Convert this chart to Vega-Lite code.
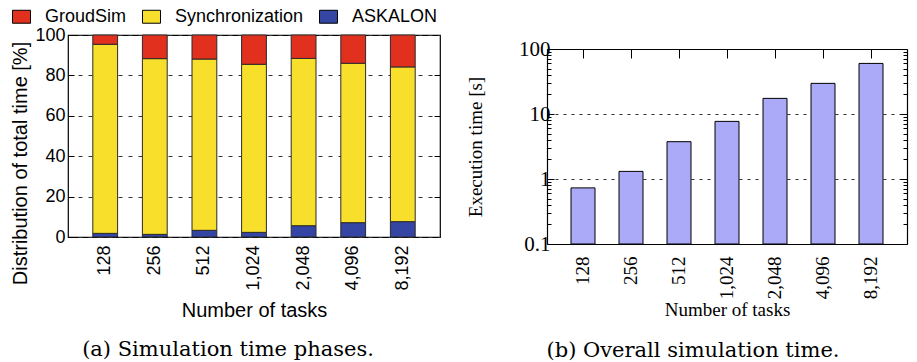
{
  "$schema": "https://vega.github.io/schema/vega-lite/v6.json",
  "background": "white",
  "padding": {"left": 10, "top": 7, "right": 5, "bottom": 5},
  "spacing": 24,
  "config": {
    "view": {"stroke": "black", "strokeWidth": 1.2},
    "axis": {"domain": false, "labelColor": "black", "titleColor": "black", "tickColor": "black", "titleFontWeight": "normal"},
    "title": {"color": "black", "fontWeight": "normal"}
  },
  "hconcat": [
    {
      "width": 372,
      "height": 202,
      "title": {"text": "(a) Simulation time phases.", "orient": "bottom", "font": "DejaVu Serif", "fontSize": 21, "fontWeight": "normal", "offset": 19, "dx": -26},
      "data": {"values": [
        {"tasks": "128", "phase": "ASKALON", "rank": 1, "pct": 1.8},
        {"tasks": "128", "phase": "Synchronization", "rank": 2, "pct": 93.6},
        {"tasks": "128", "phase": "GroudSim", "rank": 3, "pct": 4.6},
        {"tasks": "256", "phase": "ASKALON", "rank": 1, "pct": 1.3},
        {"tasks": "256", "phase": "Synchronization", "rank": 2, "pct": 87.0},
        {"tasks": "256", "phase": "GroudSim", "rank": 3, "pct": 11.7},
        {"tasks": "512", "phase": "ASKALON", "rank": 1, "pct": 3.3},
        {"tasks": "512", "phase": "Synchronization", "rank": 2, "pct": 84.8},
        {"tasks": "512", "phase": "GroudSim", "rank": 3, "pct": 11.9},
        {"tasks": "1,024", "phase": "ASKALON", "rank": 1, "pct": 2.3},
        {"tasks": "1,024", "phase": "Synchronization", "rank": 2, "pct": 83.2},
        {"tasks": "1,024", "phase": "GroudSim", "rank": 3, "pct": 14.5},
        {"tasks": "2,048", "phase": "ASKALON", "rank": 1, "pct": 5.6},
        {"tasks": "2,048", "phase": "Synchronization", "rank": 2, "pct": 82.8},
        {"tasks": "2,048", "phase": "GroudSim", "rank": 3, "pct": 11.6},
        {"tasks": "4,096", "phase": "ASKALON", "rank": 1, "pct": 7.1},
        {"tasks": "4,096", "phase": "Synchronization", "rank": 2, "pct": 78.9},
        {"tasks": "4,096", "phase": "GroudSim", "rank": 3, "pct": 14.0},
        {"tasks": "8,192", "phase": "ASKALON", "rank": 1, "pct": 7.6},
        {"tasks": "8,192", "phase": "Synchronization", "rank": 2, "pct": 76.6},
        {"tasks": "8,192", "phase": "GroudSim", "rank": 3, "pct": 15.8}
      ]},
      "layer": [
        {
          "mark": {"type": "bar", "stroke": "#2b2b2b", "strokeWidth": 1},
          "encoding": {
            "x": {"field": "tasks", "type": "ordinal", "sort": null,
              "scale": {"paddingInner": 0.5, "paddingOuter": 0.5},
              "axis": {"title": "Number of tasks", "labelAngle": -90, "labelAlign": "right", "labelBaseline": "middle", "ticks": false, "labelPadding": 8,
                "labelFont": "Liberation Sans", "labelFontSize": 18, "titleFont": "Liberation Sans", "titleFontSize": 20, "titlePadding": 10}},
            "y": {"field": "pct", "type": "quantitative", "stack": "zero",
              "scale": {"domain": [0, 100], "nice": false},
              "axis": {"title": "Distribution of total time [%]", "values": [0, 20, 40, 60, 80, 100], "tickSize": -6,
                "grid": true, "gridDash": [4, 6], "gridColor": "#333",
                "labelFont": "Liberation Sans", "labelFontSize": 18, "labelPadding": 9,
                "titleFont": "Liberation Sans", "titleFontSize": 20, "titleY": 128}},
            "color": {"field": "phase", "type": "nominal", "sort": ["GroudSim", "Synchronization", "ASKALON"],
              "scale": {"domain": ["GroudSim", "Synchronization", "ASKALON"], "range": ["#e2301f", "#f7df2b", "#3445a3"]},
              "legend": {"orient": "none", "direction": "horizontal", "legendX": -56, "legendY": -28, "title": null,
                "symbolType": "M-1,-0.72H1V0.72H-1Z", "symbolSize": 324, "symbolStrokeColor": "black", "symbolStrokeWidth": 1,
                "labelFont": "Liberation Sans", "labelFontSize": 18, "labelColor": "black", "labelOffset": 14, "columnPadding": 13}},
            "order": {"field": "rank", "type": "quantitative", "sort": "ascending"}
          }
        },
        {
          "mark": {"type": "rule", "opacity": 0},
          "encoding": {
            "y": {"field": "pct", "type": "quantitative",
              "axis": {"orient": "right", "title": null, "labels": false, "values": [20, 40, 60, 80], "tickSize": -6, "grid": false}}
          }
        }
      ],
      "resolve": {"axis": {"y": "independent"}}
    },
    {
      "width": 360,
      "height": 209,
      "view": {"stroke": null},
      "title": {"text": "(b) Overall simulation time.", "orient": "bottom", "font": "DejaVu Serif", "fontSize": 21, "fontWeight": "normal", "offset": 20, "dx": -34},
      "data": {"values": [
        {"tasks": "128", "time": 0.73},
        {"tasks": "256", "time": 1.31},
        {"tasks": "512", "time": 3.75},
        {"tasks": "1,024", "time": 7.7},
        {"tasks": "2,048", "time": 17.4},
        {"tasks": "4,096", "time": 29.6},
        {"tasks": "8,192", "time": 60}
      ]},
      "layer": [
        {
          "mark": {"type": "bar", "fill": "#aaaaf8", "stroke": "black", "strokeWidth": 1},
          "encoding": {
            "x": {"field": "tasks", "type": "ordinal", "sort": null,
              "scale": {"paddingInner": 0.5, "paddingOuter": 0.5},
              "axis": {"title": "Number of tasks", "labelAngle": -90, "labelAlign": "right", "labelBaseline": "middle", "ticks": false, "labelPadding": 12,
                "domain": true, "domainColor": "black", "domainWidth": 1.2,
                "labelFont": "Liberation Serif", "labelFontSize": 19, "titleFont": "Liberation Serif", "titleFontSize": 19, "titlePadding": 2}},
            "y": {"field": "time", "type": "quantitative",
              "scale": {"type": "log", "domain": [0.1, 100], "nice": false, "range": [209, 14]},
              "axis": {"title": "Execution time [s]",
                "values": [0.1, 0.2, 0.3, 0.4, 0.5, 0.6, 0.7, 0.8, 0.9, 1, 2, 3, 4, 5, 6, 7, 8, 9, 10, 20, 30, 40, 50, 60, 70, 80, 90, 100],
                "format": "~g",
                "labelExpr": "(datum.value == 0.1 || datum.value == 1 || datum.value == 10 || datum.value == 100) ? datum.label : ''",
                "tickSize": {"condition": {"test": "datum.value == 0.1 || datum.value == 1 || datum.value == 10 || datum.value == 100", "value": -7}, "value": -4},
                "domain": true, "domainColor": "black", "domainWidth": 1.2,
                "grid": true, "gridDash": [3, 5], "gridColor": "#333",
                "gridOpacity": {"condition": {"test": "datum.value == 1 || datum.value == 10", "value": 1}, "value": 0},
                "labelFont": "Liberation Serif", "labelFontSize": 21, "labelPadding": 4,
                "titleFont": "Liberation Serif", "titleFontSize": 19, "titlePadding": 33}},
            "y2": {"datum": 0.1}
          }
        },
        {
          "mark": {"type": "bar", "opacity": 0},
          "encoding": {
            "x": {"field": "tasks", "type": "ordinal", "sort": null,
              "axis": {"orient": "top", "title": null, "labels": false, "tickSize": -9, "offset": -14,
                "domain": true, "domainColor": "black", "domainWidth": 1.2}},
            "y": {"field": "time", "type": "quantitative",
              "axis": {"orient": "right", "title": null, "labels": false,
                "values": [0.1, 0.2, 0.3, 0.4, 0.5, 0.6, 0.7, 0.8, 0.9, 1, 2, 3, 4, 5, 6, 7, 8, 9, 10, 20, 30, 40, 50, 60, 70, 80, 90, 100],
                "tickSize": {"condition": {"test": "datum.value == 0.1 || datum.value == 1 || datum.value == 10 || datum.value == 100", "value": -7}, "value": -4},
                "domain": true, "domainColor": "black", "domainWidth": 1.2,
                "grid": false}},
            "y2": {"datum": 0.1}
          }
        }
      ],
      "resolve": {"axis": {"x": "independent", "y": "independent"}}
    }
  ]
}
